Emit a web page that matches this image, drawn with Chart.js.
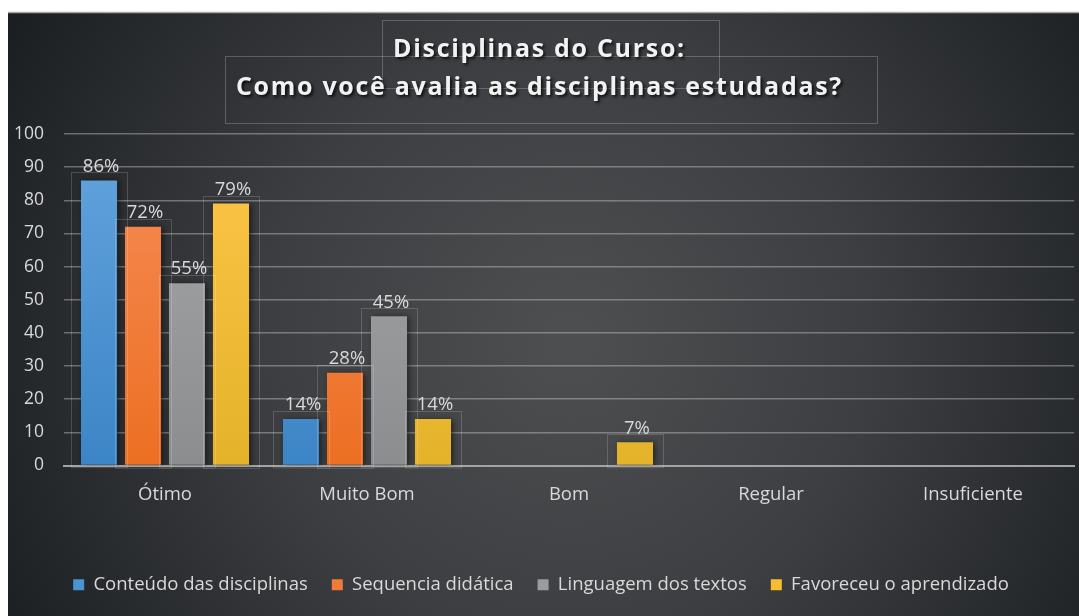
<!DOCTYPE html>
<html><head><meta charset="utf-8">
<script src="https://cdn.jsdelivr.net/npm/chart.js@4.4.1/dist/chart.umd.min.js"></script>
<style>
html,body{margin:0;padding:0;background:#fff;}
#wrap{position:relative;width:1079px;height:616px;}
canvas{position:absolute;left:0;top:0;}
.tbox{position:absolute;border:1px solid rgba(255,255,255,0.22);box-sizing:border-box;}
.tline{position:absolute;left:0;width:1079px;text-align:center;font-family:"Open Sans",sans-serif;font-weight:700;font-size:25px;letter-spacing:1.7px;color:#f2f2f2;text-shadow:2px 2px 3px rgba(0,0,0,0.75);line-height:26px;}
</style></head>
<body>
<div id="wrap">
<canvas id="c" width="1079" height="616"></canvas>
<div class="tbox" style="left:382px;top:20px;width:338px;height:69px;"></div>
<div class="tbox" style="left:225px;top:56px;width:653px;height:68px;"></div>
<div class="tline" style="top:34px;">Disciplinas do Curso:</div>
<div class="tline" style="top:72px;">Como você avalia as disciplinas estudadas?</div>
</div>
<script>
const categories = ["Ótimo", "Muito Bom", "Bom", "Regular", "Insuficiente"];
const seriesNames = ["Conteúdo das disciplinas", "Sequencia didática", "Linguagem dos textos", "Favoreceu o aprendizado"];
const conteudo = [86, 14, 0, 0, 0];
const sequencia = [72, 28, 0, 0, 0];
const linguagem = [55, 45, 0, 0, 0];
const favoreceu = [79, 14, 7, 0, 0];
const yTicks = [0, 10, 20, 30, 40, 50, 60, 70, 80, 90, 100];

const gradStops = [
  ["#64a4dd", "#3c85c6"],
  ["#f68d58", "#ec6f23"],
  ["#a6a8a9", "#8b8d8e"],
  ["#ffc64a", "#e4b32a"]
];
const legendColors = ["#4b94d3", "#f07a38", "#9a9c9d", "#fbbd30"];

function barGrad(i){
  return function(ctx){
    const ch = ctx.chart; const a = ch.chartArea;
    if(!a) return gradStops[i][1];
    const g = ch.ctx.createLinearGradient(0, a.top, 0, a.bottom);
    g.addColorStop(0, gradStops[i][0]);
    g.addColorStop(1, gradStops[i][1]);
    return g;
  };
}

const bgPlugin = {
  id: 'bg',
  beforeDraw(chart){
    const c = chart.ctx;
    c.save();
    const g = c.createRadialGradient(570, 340, 20, 570, 340, 640);
    g.addColorStop(0, '#4c4e50');
    g.addColorStop(0.45, '#3c3e41');
    g.addColorStop(1, '#1c1f22');
    c.fillStyle = g;
    c.fillRect(8, 12, chart.width - 8, chart.height - 12);
    c.strokeStyle = '#a6a6a6';
    c.lineWidth = 1.5;
    c.beginPath(); c.moveTo(8, 12.5); c.lineTo(chart.width, 12.5); c.stroke();
    c.restore();
  }
};

const shadowPlugin = {
  id: 'shadow',
  beforeDatasetsDraw(chart){
    const c = chart.ctx; c.save();
    c.shadowColor = 'rgba(0,0,0,0.55)'; c.shadowBlur = 6; c.shadowOffsetX = 2; c.shadowOffsetY = 1;
  },
  afterDatasetsDraw(chart){
    const c = chart.ctx; c.restore();
    c.save();
    const base = chart.scales.y.getPixelForValue(0);
    c.font = '18.5px "Open Sans", sans-serif';
    c.fillStyle = '#d9d9d9';
    c.textAlign = 'center';
    c.textBaseline = 'middle';
    chart.data.datasets.forEach((ds, di) => {
      const meta = chart.getDatasetMeta(di);
      meta.data.forEach((bar, i) => {
        const v = ds.data[i];
        if(!v) return;
        c.strokeStyle = 'rgba(255,255,255,0.17)';
        c.lineWidth = 1;
        c.strokeRect(Math.round(bar.x - 28) + 0.5, Math.round(bar.y - 8) + 0.5, 56, base - bar.y + 10);
        c.fillText(v + '%', bar.x + 2, bar.y - 14);
      });
    });
    c.restore();
  }
};

const datasets = [conteudo, sequencia, linguagem, favoreceu].map((d, i) => ({
  label: seriesNames[i],
  data: d,
  backgroundColor: barGrad(i),
  borderWidth: 0,
  barPercentage: 0.82,
  categoryPercentage: 0.871
}));

new Chart(document.getElementById('c'), {
  type: 'bar',
  data: { labels: categories, datasets },
  options: {
    responsive: false,
    animation: false,
    devicePixelRatio: 1,
    layout: { padding: { left: 8, right: 5, top: 134, bottom: 12 } },
    plugins: {
      title: { display: false },
      tooltip: { enabled: false },
      legend: {
        position: 'bottom',
        labels: {
          color: '#d9d9d9',
          font: { family: '"Open Sans", sans-serif', size: 18.5 },
          boxWidth: 11, boxHeight: 11, padding: 24,
          generateLabels(chart){
            return chart.data.datasets.map((ds, i) => ({
              text: ds.label, fillStyle: legendColors[i], strokeStyle: legendColors[i],
              lineWidth: 0, fontColor: '#d9d9d9', datasetIndex: i
            }));
          }
        }
      }
    },
    scales: {
      x: {
        grid: { display: false, drawTicks: false },
        border: { display: true, color: '#a3a3a3', width: 2 },
        ticks: { color: '#d9d9d9', font: { family: '"Open Sans", sans-serif', size: 18.5 }, padding: 18 },
        afterFit(s){ s.height = 86; }
      },
      y: {
        min: 0, max: 100,
        afterBuildTicks(s){ s.ticks = yTicks.map(v => ({ value: v })); },
        grid: { color: 'rgba(220,220,220,0.38)', lineWidth: 1.5, drawTicks: false },
        border: { display: false },
        ticks: { color: '#d9d9d9', font: { family: '"Open Sans", sans-serif', size: 17.5 }, padding: 20 },
        afterFit(s){ s.width = 56; }
      }
    }
  },
  plugins: [bgPlugin, shadowPlugin]
});
</script>
</body></html>
